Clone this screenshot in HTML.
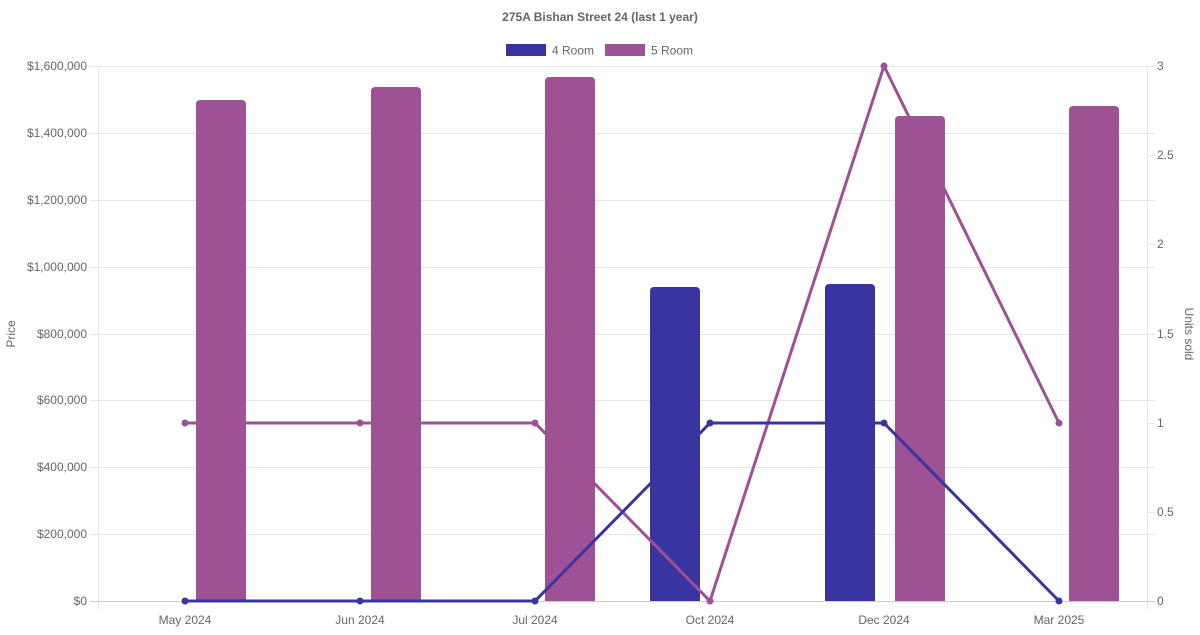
<!DOCTYPE html>
<html><head><meta charset="utf-8"><style>
body{margin:0;background:#fff}
text{font-family:"Liberation Sans",Arial,sans-serif;fill:#666}
</style></head><body>
<svg width="1200" height="630" xmlns="http://www.w3.org/2000/svg">
<text x="600" y="21" text-anchor="middle" font-size="12" font-weight="bold">275A Bishan Street 24 (last 1 year)</text>
<rect x="506" y="44" width="40" height="12" fill="#3a34a0"/>
<text x="552" y="54.5" font-size="12">4 Room</text>
<rect x="605" y="44" width="40" height="12" fill="#9e5194"/>
<text x="651" y="54.5" font-size="12">5 Room</text>
<g stroke="#e5e5e5" stroke-width="1">
<line x1="90" y1="66.5" x2="1155" y2="66.5"/>
<line x1="90" y1="133.5" x2="1155" y2="133.5"/>
<line x1="90" y1="200.5" x2="1155" y2="200.5"/>
<line x1="90" y1="267.5" x2="1155" y2="267.5"/>
<line x1="90" y1="334.5" x2="1155" y2="334.5"/>
<line x1="90" y1="400.5" x2="1155" y2="400.5"/>
<line x1="90" y1="467.5" x2="1155" y2="467.5"/>
<line x1="90" y1="534.5" x2="1155" y2="534.5"/>
<line x1="98.5" y1="66" x2="98.5" y2="609"/>
<line x1="1147.5" y1="66" x2="1147.5" y2="609"/>
<line x1="1147" y1="155.5" x2="1155" y2="155.5"/>
<line x1="1147" y1="244.5" x2="1155" y2="244.5"/>
<line x1="1147" y1="423.5" x2="1155" y2="423.5"/>
<line x1="1147" y1="512.5" x2="1155" y2="512.5"/>
</g>
<line x1="90" y1="601.5" x2="1155" y2="601.5" stroke="#ccc"/>
<g font-size="12" text-anchor="end">
<text x="87" y="70">$1,600,000</text><text x="87" y="137">$1,400,000</text>
<text x="87" y="204">$1,200,000</text><text x="87" y="271">$1,000,000</text>
<text x="87" y="338">$800,000</text><text x="87" y="404">$600,000</text>
<text x="87" y="471">$400,000</text><text x="87" y="538">$200,000</text>
<text x="87" y="605">$0</text>
</g>
<g font-size="12">
<text x="1157" y="70">3</text><text x="1157" y="159">2.5</text>
<text x="1157" y="248">2</text><text x="1157" y="338">1.5</text>
<text x="1157" y="427">1</text><text x="1157" y="516">0.5</text>
<text x="1157" y="605">0</text>
</g>
<g font-size="12" text-anchor="middle">
<text x="185" y="624">May 2024</text><text x="360" y="624">Jun 2024</text>
<text x="535" y="624">Jul 2024</text><text x="710" y="624">Oct 2024</text>
<text x="884" y="624">Dec 2024</text><text x="1059" y="624">Mar 2025</text>
</g>
<text transform="translate(15,334) rotate(-90)" font-size="12" text-anchor="middle">Price</text>
<text transform="translate(1185,334) rotate(90)" font-size="12" text-anchor="middle">Units sold</text>
<g fill="#9e5194">
<path d="M196 601V104a4 4 0 0 1 4-4h42a4 4 0 0 1 4 4V601z"/>
<path d="M371 601V91a4 4 0 0 1 4-4h42a4 4 0 0 1 4 4V601z"/>
<path d="M545 601V81a4 4 0 0 1 4-4h42a4 4 0 0 1 4 4V601z"/>
<path d="M895 601V120a4 4 0 0 1 4-4h42a4 4 0 0 1 4 4V601z"/>
<path d="M1069 601V110a4 4 0 0 1 4-4h42a4 4 0 0 1 4 4V601z"/>
</g>
<g fill="#3a34a0">
<path d="M650 601V291a4 4 0 0 1 4-4h42a4 4 0 0 1 4 4V601z"/>
<path d="M825 601V288a4 4 0 0 1 4-4h42a4 4 0 0 1 4 4V601z"/>
</g>
<polyline fill="none" stroke="#9e5194" stroke-width="3" points="185,423 360,423 535,423 710,601 884,66 1059,423"/>
<g fill="#9e5194"><circle cx="185" cy="423" r="3.5"/><circle cx="360" cy="423" r="3.5"/><circle cx="535" cy="423" r="3.5"/><circle cx="710" cy="601" r="3.5"/><circle cx="884" cy="66" r="3.5"/><circle cx="1059" cy="423" r="3.5"/></g>
<polyline fill="none" stroke="#3a34a0" stroke-width="3" points="185,601 360,601 535,601 710,423 884,423 1059,601"/>
<g fill="#3a34a0"><circle cx="185" cy="601" r="3.5"/><circle cx="360" cy="601" r="3.5"/><circle cx="535" cy="601" r="3.5"/><circle cx="710" cy="423" r="3.5"/><circle cx="884" cy="423" r="3.5"/><circle cx="1059" cy="601" r="3.5"/></g>
</svg>
</body></html>
